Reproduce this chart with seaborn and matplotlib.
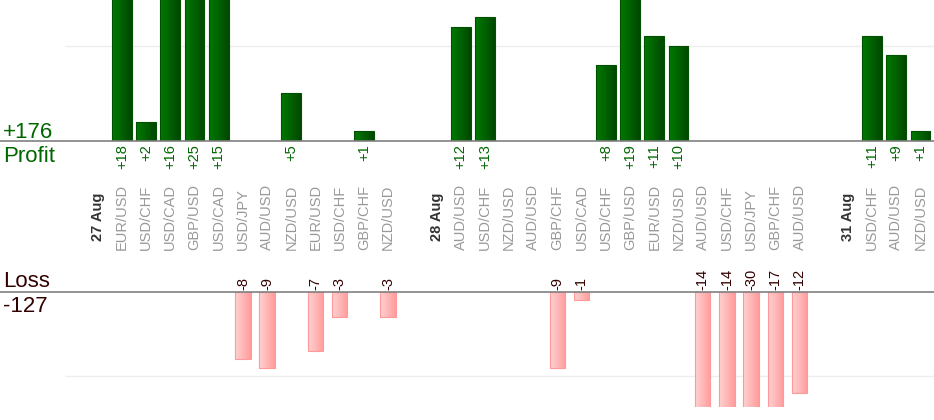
import matplotlib
matplotlib.use("Agg")
import matplotlib.pyplot as plt
import matplotlib.transforms as mtransforms
from matplotlib.colors import LinearSegmentedColormap
import numpy as np
import pandas as pd
import seaborn as sns

# trades grouped by day
days = ["27 Aug", "28 Aug", "31 Aug"]
day1_pairs = ["EUR/USD", "USD/CHF", "USD/CAD", "GBP/USD", "USD/CAD", "USD/JPY",
              "AUD/USD", "NZD/USD", "EUR/USD", "USD/CHF", "GBP/CHF", "NZD/USD"]
day1_result = [18, 2, 16, 25, 15, -8, -9, 5, -7, -3, 1, -3]
day2_pairs = ["AUD/USD", "USD/CHF", "NZD/USD", "AUD/USD", "GBP/CHF", "USD/CAD",
              "USD/CHF", "GBP/USD", "EUR/USD", "NZD/USD", "AUD/USD", "USD/CHF",
              "USD/JPY", "GBP/CHF", "AUD/USD"]
day2_result = [12, 13, 0, 0, -9, -1, 8, 19, 11, 10, -14, -14, -30, -17, -12]
day3_pairs = ["USD/CHF", "AUD/USD", "NZD/USD"]
day3_result = [11, 9, 1]

day_pairs = [day1_pairs, day2_pairs, day3_pairs]
day_results = [day1_result, day2_result, day3_result]

# lay out slots: date label, trades, empty gap
rows = []
date_slots = []
slot = 0
for d, pairs, res in zip(days, day_pairs, day_results):
    date_slots.append((slot, d))
    slot += 1
    for p, r in zip(pairs, res):
        rows.append({"slot": slot, "pair": p, "result": r})
        slot += 1
    slot += 1
df = pd.DataFrame(rows)
profit = df[df.result > 0]
loss = df[df.result < 0]

W, H = 934, 420
sns.set_theme(style="white")
plt.rcParams["font.family"] = ["Liberation Sans", "DejaVu Sans"]

fig = plt.figure(figsize=(W / 100, H / 100), dpi=100)
fig.patch.set_facecolor("white")

top_base, loss_base, loss_bottom = 141, 292, 407
px_profit, px_loss = 9.5, 8.4
x0_px, step_px = 97.7, 24.2
xlim = (-x0_px / step_px, (W - x0_px) / step_px)
grid_start = (65 - x0_px) / step_px

ax_p = fig.add_axes([0, 1 - top_base / H, 1, top_base / H])
ax_l = fig.add_axes([0, 1 - loss_bottom / H, 1, (loss_bottom - loss_base) / H])

sns.barplot(data=profit, x="slot", y="result", native_scale=True, width=0.82,
            errorbar=None, color="#006600", edgecolor="#005000", linewidth=0.8, ax=ax_p)
sns.barplot(data=loss, x="slot", y="result", native_scale=True, width=0.64,
            errorbar=None, color="#ffaaaa", edgecolor="#ff9999", linewidth=0.8, ax=ax_l)

ax_p.set_ylim(0, top_base / px_profit)
ax_l.set_ylim(-(loss_bottom - loss_base) / px_loss, 0)

green_cm = LinearSegmentedColormap.from_list("g", ["#007a00", "#004800"])
pink_cm = LinearSegmentedColormap.from_list("p", ["#ffd2d2", "#ff9c9c"])
grad = np.linspace(0, 1, 64).reshape(1, -1)


def shade(ax, cmap):
    lo, hi = ax.get_ylim()
    for p in list(ax.patches):
        x, w = p.get_x(), p.get_width()
        y0, y1 = sorted([p.get_y(), p.get_y() + p.get_height()])
        y0, y1 = max(y0, lo), min(y1, hi)
        im = ax.imshow(grad, cmap=cmap, aspect="auto", extent=[x, x + w, y0, y1],
                       zorder=p.get_zorder() - 0.1, interpolation="bilinear")
        im.set_clip_path(p)
        p.set_facecolor("none")
    ax.set_ylim(lo, hi)


shade(ax_p, green_cm)
shade(ax_l, pink_cm)

for ax in (ax_p, ax_l):
    ax.set_xlim(*xlim)
    ax.axis("off")
ax_p.hlines(10, grid_start, xlim[1], color="#eeeeee", lw=1, zorder=0)
ax_l.hlines(-10, grid_start, xlim[1], color="#eeeeee", lw=1, zorder=0)

# baselines across full width
for y in (top_base, loss_base):
    fig.add_artist(plt.Line2D([0, 1], [1 - y / H] * 2, color="#808080", lw=1.2,
                              transform=fig.transFigure))

tr = mtransforms.blended_transform_factory(ax_p.transData, fig.transFigure)


def fy(px):
    return 1 - px / H


green_txt, loss_txt = "#006600", "#330000"
for _, r in profit.iterrows():
    fig.text(r.slot, fy(144), f"+{r.result}", transform=tr, rotation=90,
             ha="center", va="top", color=green_txt, fontsize=10.5)
for _, r in loss.iterrows():
    fig.text(r.slot, fy(290), f"{r.result}", transform=tr, rotation=90,
             ha="center", va="bottom", color=loss_txt, fontsize=10.5)
for _, r in df.iterrows():
    fig.text(r.slot, fy(250), r.pair, transform=tr, rotation=90,
             ha="center", va="bottom", color="#999999", fontsize=10.5)
for s, d in date_slots:
    fig.text(s, fy(217), d, transform=tr, rotation=90, ha="center", va="center",
             color="#333333", fontsize=10.5, fontweight="bold")

total_p = int(profit.result.sum())
total_l = int(loss.result.sum())
fig.text(3 / W, fy(138), f"+{total_p}", color=green_txt, fontsize=16, va="baseline")
fig.text(3 / W, fy(162), "Profit", color=green_txt, fontsize=16, va="baseline")
fig.text(3 / W, fy(287), "Loss", color=loss_txt, fontsize=16, va="baseline")
fig.text(3 / W, fy(312), f"{total_l}", color=loss_txt, fontsize=16, va="baseline")

fig.savefig("out.png", dpi=100)
